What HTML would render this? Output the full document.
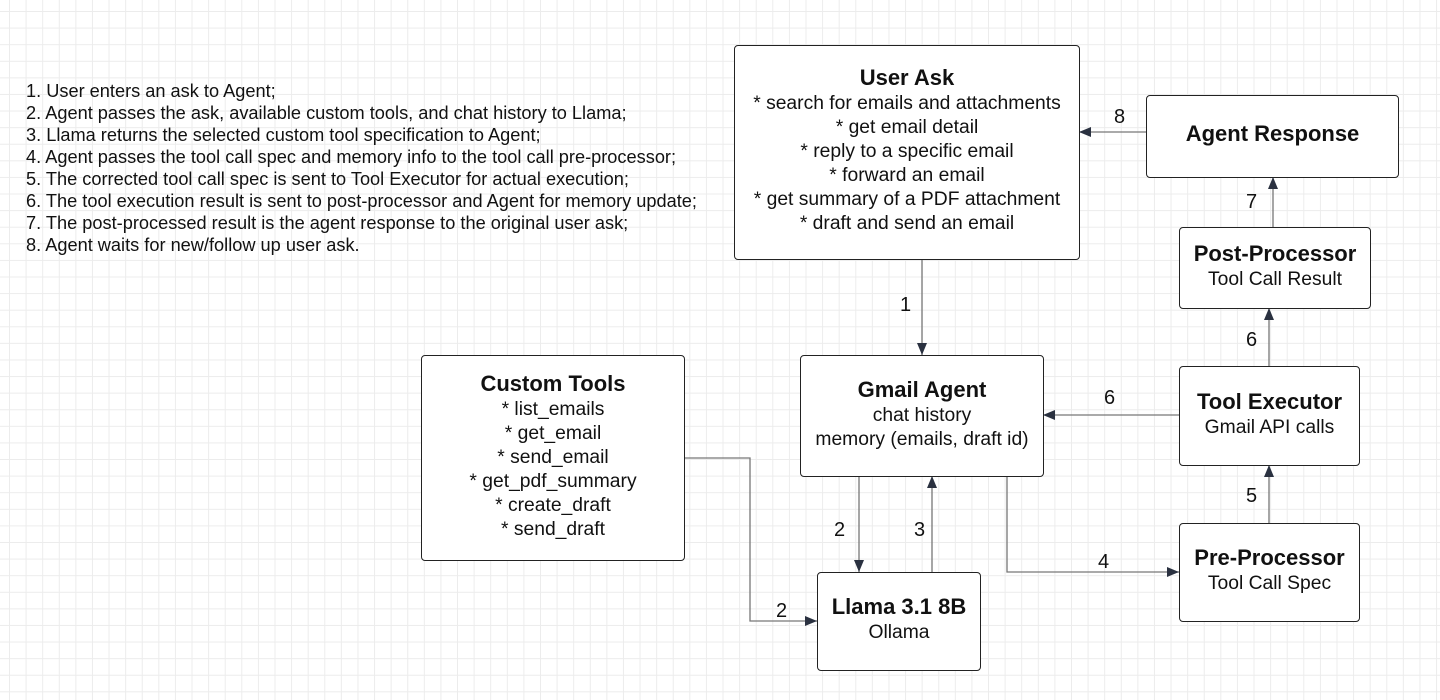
<!DOCTYPE html>
<html><head><meta charset="utf-8"><style>
html,body{margin:0;padding:0;}
body{width:1440px;height:700px;position:relative;overflow:hidden;background-color:#fff;
background-image:linear-gradient(#ececec 1px,transparent 1px),linear-gradient(90deg,#ececec 1px,transparent 1px);
background-size:16.6px 16.6px;background-position:9px 11px;font-family:"Liberation Sans",sans-serif;color:#111;}
.list{position:absolute;left:26px;top:80px;font-size:18.2px;line-height:22px;white-space:nowrap;}
.box{position:absolute;border:1.5px solid #222;border-radius:4px;background:#fff;box-sizing:border-box;text-align:center;display:flex;flex-direction:column;justify-content:center;font-size:19.3px;line-height:24px;white-space:nowrap;padding-bottom:5px;}
.box b{font-size:22px;line-height:28px;}
svg{position:absolute;left:0;top:0;}
.lbl{font-family:"Liberation Sans",sans-serif;font-size:20px;fill:#111;}
</style></head><body>
<div class="list">1. User enters an ask to Agent;<br>2. Agent passes the ask, available custom tools, and chat history to Llama;<br>3. Llama returns the selected custom tool specification to Agent;<br>4. Agent passes the tool call spec and memory info to the tool call pre-processor;<br>5. The corrected tool call spec is sent to Tool Executor for actual execution;<br>6. The tool execution result is sent to post-processor and Agent for memory update;<br>7. The post-processed result is the agent response to the original user ask;<br>8. Agent waits for new/follow up user ask.</div>
<svg width="1440" height="700">
<defs><marker id="a" markerWidth="12" markerHeight="10" refX="12" refY="5" orient="auto" markerUnits="userSpaceOnUse"><path d="M0,0 L12,5 L0,10 Z" fill="#2a3140"/></marker></defs>
<g stroke="#777" stroke-width="1.3" fill="none" marker-end="url(#a)">
<path d="M922,259 V355"/>
<path d="M859,476 V572"/>
<path d="M932,572 V476"/>
<path d="M684,458 H750 V621 H817"/>
<path d="M1007,476 V572 H1179"/>
<path d="M1269,523 V465"/>
<path d="M1269,366 V308"/>
<path d="M1179,415 H1043"/>
<path d="M1273,227 V177"/>
<path d="M1146,132 H1079"/>
</g>
<text class="lbl" x="900" y="311">1</text>
<text class="lbl" x="834" y="536">2</text>
<text class="lbl" x="914" y="536">3</text>
<text class="lbl" x="776" y="617">2</text>
<text class="lbl" x="1098" y="568">4</text>
<text class="lbl" x="1246" y="502">5</text>
<text class="lbl" x="1246" y="346">6</text>
<text class="lbl" x="1104" y="404">6</text>
<text class="lbl" x="1246" y="208">7</text>
<text class="lbl" x="1114" y="123">8</text>
</svg>
<div class="box" style="left:734px;top:45px;width:346px;height:215px;"><b>User Ask</b>* search for emails and attachments<br>* get email detail<br>* reply to a specific email<br>* forward an email<br>* get summary of a PDF attachment<br>* draft and send an email</div>
<div class="box" style="left:1146px;top:95px;width:253px;height:83px;"><b>Agent Response</b></div>
<div class="box" style="left:1179px;top:227px;width:192px;height:82px;"><b>Post-Processor</b>Tool Call Result</div>
<div class="box" style="left:1179px;top:366px;width:181px;height:100px;"><b>Tool Executor</b>Gmail API calls</div>
<div class="box" style="left:1179px;top:523px;width:181px;height:99px;"><b>Pre-Processor</b>Tool Call Spec</div>
<div class="box" style="left:800px;top:355px;width:244px;height:122px;"><b>Gmail Agent</b>chat history<br>memory (emails, draft id)</div>
<div class="box" style="left:421px;top:355px;width:264px;height:206px;"><b>Custom Tools</b>* list_emails<br>* get_email<br>* send_email<br>* get_pdf_summary<br>* create_draft<br>* send_draft</div>
<div class="box" style="left:817px;top:572px;width:164px;height:99px;"><b>Llama 3.1 8B</b>Ollama</div>
</body></html>
